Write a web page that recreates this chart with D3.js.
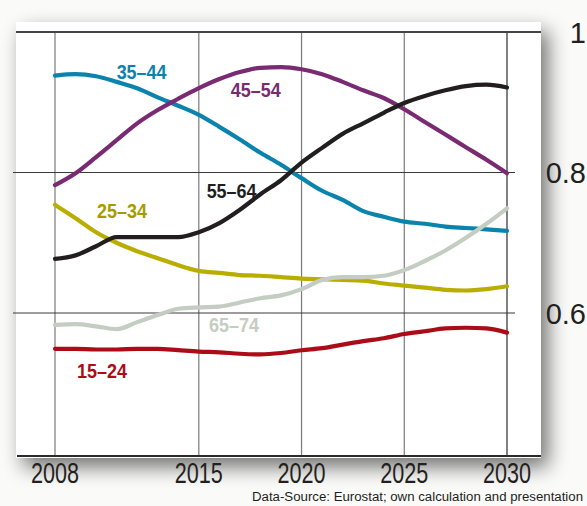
<!DOCTYPE html>
<html><head><meta charset="utf-8">
<script src="https://cdn.jsdelivr.net/npm/d3@7"></script>
<style>
html,body{margin:0;padding:0;background:#fafaf8;}
svg{display:block;}
</style></head>
<body>
<svg id="c" width="587" height="506"></svg>
<script>
const years = d3.range(2008, 2031);
const s15_24 = [0.549,0.549,0.548,0.548,0.549,0.549,0.547,0.545,0.544,0.542,0.541,0.543,0.547,0.550,0.555,0.560,0.564,0.570,0.574,0.578,0.579,0.578,0.572];
const s25_34 = [0.754,0.735,0.715,0.700,0.688,0.678,0.668,0.660,0.657,0.654,0.653,0.651,0.649,0.648,0.647,0.646,0.642,0.639,0.636,0.633,0.632,0.634,0.638];
const s35_44 = [0.938,0.940,0.937,0.929,0.920,0.907,0.895,0.882,0.865,0.847,0.828,0.811,0.792,0.774,0.761,0.745,0.737,0.730,0.727,0.723,0.721,0.719,0.717];
const s45_54 = [0.782,0.799,0.822,0.846,0.870,0.889,0.905,0.920,0.933,0.943,0.949,0.950,0.947,0.940,0.929,0.917,0.906,0.890,0.872,0.854,0.836,0.818,0.799];
const s55_64 = [0.677,0.682,0.695,0.708,0.708,0.708,0.708,0.715,0.728,0.747,0.769,0.789,0.814,0.835,0.855,0.870,0.885,0.899,0.909,0.917,0.923,0.925,0.921];
const s65_74 = [0.583,0.584,0.581,0.577,0.587,0.597,0.606,0.608,0.609,0.615,0.621,0.625,0.634,0.647,0.651,0.651,0.653,0.661,0.674,0.689,0.707,0.727,0.749];
const seriesNames = ["15–24","25–34","35–44","45–54","55–64","65–74"];
const xTickYears = [2008, 2015, 2020, 2025, 2030];
const yTickValues = [1, 0.8, 0.6];
const yTickLabels = ["1", "0.8", "0.6"];
const sourceText = "Data-Source: Eurostat; own calculation and presentation";

const seriesData = [s15_24, s25_34, s35_44, s45_54, s55_64, s65_74];
const colors = ["#ab0c17", "#b9ae00", "#0a83ad", "#7a2a72", "#221e1f", "#c4cdc2"];
const labelColors = ["#ab0c17", "#a69c00", "#0a83ad", "#7a2a72", "#221e1f", "#c4cdc2"];
// label anchor positions as [year, value]
const labelPos = [[2009.07, 0.5075], [2010.04, 0.735], [2011.0, 0.933], [2016.55, 0.9075], [2015.38, 0.764], [2015.5, 0.573]];

const svg = d3.select("#c");
const x = d3.scaleLinear().domain([2008, 2030]).range([55, 507]);
const y = d3.scaleLinear().domain([0.3964, 1]).range([456, 32]);

const defs = svg.append("defs");
const f = defs.append("filter").attr("id","sh").attr("x","-20%").attr("y","-20%").attr("width","140%").attr("height","140%");
f.append("feGaussianBlur").attr("in","SourceAlpha").attr("stdDeviation", 10);
f.append("feOffset").attr("dx", 7).attr("dy", 9).attr("result","b");
f.append("feComponentTransfer").append("feFuncA").attr("type","linear").attr("slope",0.55);
const m = f.append("feMerge"); m.append("feMergeNode"); m.append("feMergeNode").attr("in","SourceGraphic");

svg.append("rect").attr("x", 16).attr("y", 22).attr("width", 525).attr("height", 436)
  .attr("fill", "#fff").attr("filter","url(#sh)");

// vertical grid
svg.append("g").selectAll("line").data(xTickYears).join("line")
  .attr("x1", d => x(d)).attr("x2", d => x(d)).attr("y1", y(1)).attr("y2", y.range()[0])
  .attr("stroke", d => d === 2030 ? "#2a2a2a" : "#7a7a7a").attr("stroke-width", 1.2);

// horizontal grid
svg.append("g").selectAll("line").data([0.8, 0.6]).join("line")
  .attr("x1", 13).attr("x2", 515).attr("y1", d => y(d)).attr("y2", d => y(d))
  .attr("stroke", "#3a3a3a").attr("stroke-width", 1.2);
svg.append("line").attr("x1", 16).attr("x2", 541).attr("y1", y(1)).attr("y2", y(1))
  .attr("stroke", "#444").attr("stroke-width", 1.8);
svg.append("line").attr("x1", 17).attr("x2", 541).attr("y1", y.range()[0]).attr("y2", y.range()[0])
  .attr("stroke", "#2a2a2a").attr("stroke-width", 2);

// lines
const line = d3.line().x((d, i) => x(years[i])).y(d => y(d)).curve(d3.curveMonotoneX);
svg.append("g").selectAll("path").data(seriesData).join("path")
  .attr("d", line).attr("fill", "none").attr("stroke", (d, i) => colors[i])
  .attr("stroke-width", 4.2).attr("stroke-linecap", "round").attr("stroke-linejoin", "round");

// series labels
const fontNarrow = "'Liberation Sans Narrow', 'Arial Narrow', 'Liberation Sans', Arial, sans-serif";
svg.append("g").selectAll("text").data(seriesNames).join("text")
  .attr("x", (d, i) => x(labelPos[i][0])).attr("y", (d, i) => y(labelPos[i][1]))
  .attr("font-family", fontNarrow).attr("font-weight", "bold").attr("font-size", 20)
  .attr("textLength", 50).attr("lengthAdjust", "spacingAndGlyphs")
  .attr("fill", (d, i) => labelColors[i]).text(d => d);

// x tick labels
svg.append("g").selectAll("text").data(xTickYears).join("text")
  .attr("x", d => x(d)).attr("y", 483).attr("text-anchor", "middle")
  .attr("font-family", fontNarrow).attr("font-size", 29)
  .attr("textLength", 48).attr("lengthAdjust", "spacingAndGlyphs")
  .attr("fill", "#231f20").text(d => d);

// y tick labels
svg.append("g").selectAll("text").data(yTickValues).join("text")
  .attr("x", 586).attr("y", d => y(d) + 11).attr("text-anchor", "end")
  .attr("font-family", fontNarrow).attr("font-size", 29)
  .attr("fill", "#231f20").text((d, i) => yTickLabels[i]);

svg.append("text").attr("x", 583).attr("y", 501).attr("text-anchor", "end")
  .attr("font-family", "Liberation Sans, Arial, sans-serif").attr("font-size", 12.5)
  .attr("textLength", 331).attr("lengthAdjust", "spacingAndGlyphs")
  .attr("fill", "#231f20").text(sourceText);
</script>
</body></html>
